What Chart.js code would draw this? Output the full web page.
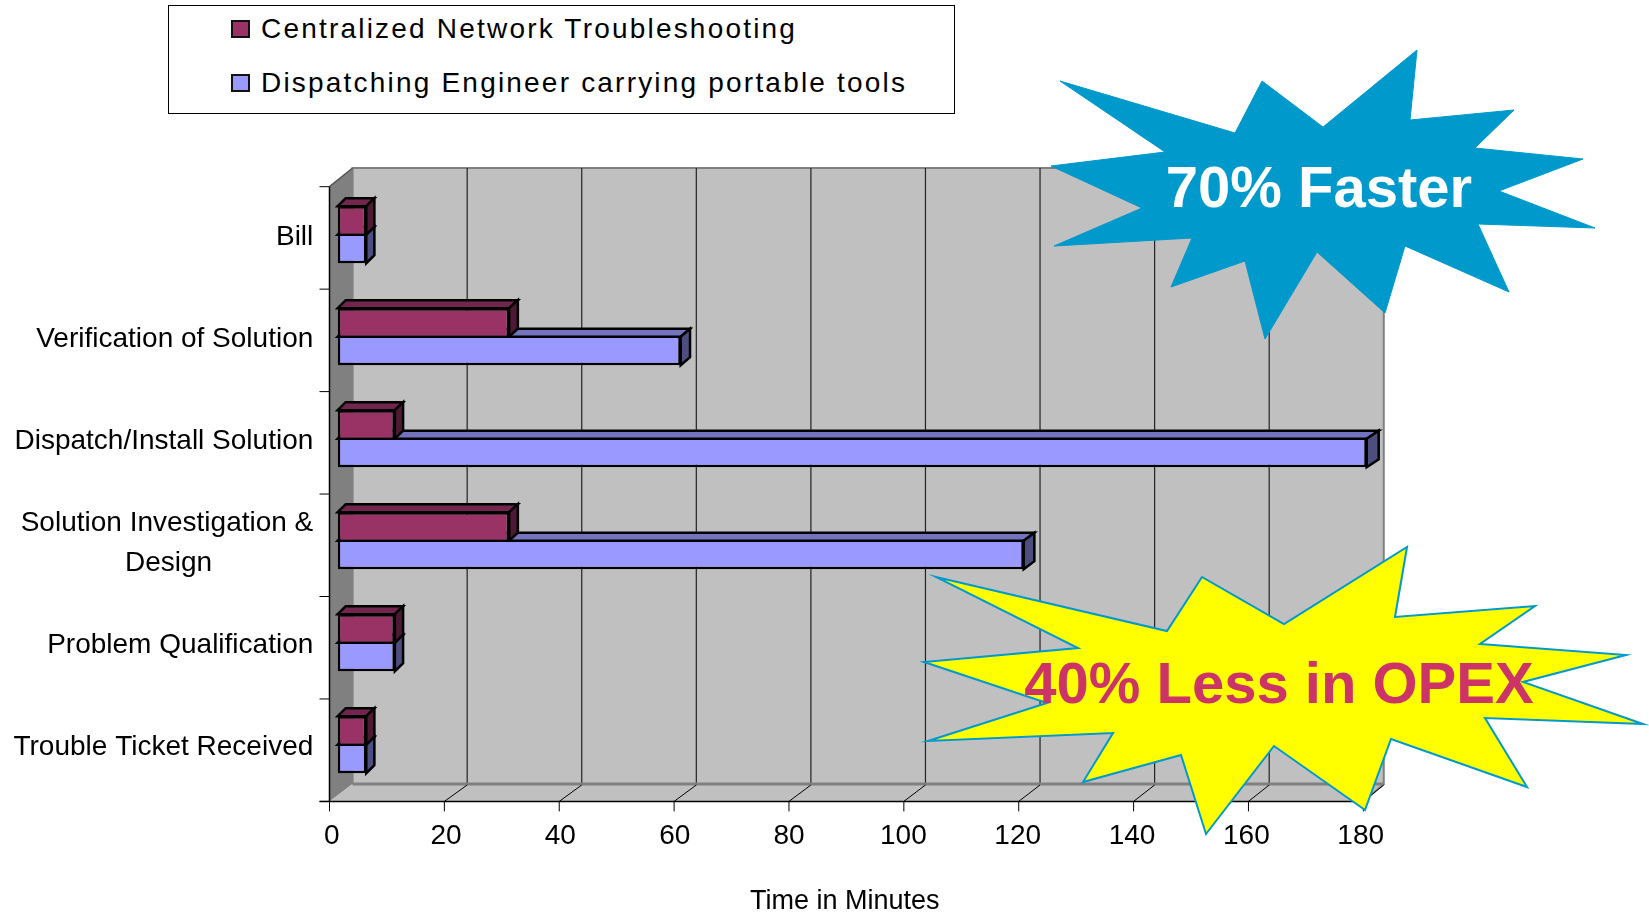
<!DOCTYPE html>
<html>
<head>
<meta charset="utf-8">
<title>Time in Minutes</title>
<script src="https://cdn.jsdelivr.net/npm/chart.js@4.4.1/dist/chart.umd.min.js"></script>
<style>
  html, body { margin: 0; padding: 0; background: #fff; }
  #wrap { position: relative; width: 1649px; height: 915px; overflow: hidden; }
  #chart { position: absolute; left: 0; top: 0; }
  #legend {
    position: absolute; left: 168px; top: 5px; width: 787px; height: 109px;
    border: 1px solid #000; box-sizing: border-box; background: #fff;
    font-family: 'Liberation Sans', Arial, sans-serif; font-size: 28px;
    letter-spacing: 2.2px; color: #000;
  }
  .legend-item { position: absolute; left: 62px; height: 30px; display: flex; align-items: center; white-space: nowrap; }
  .swatch { width: 19px; height: 18px; border: 2px solid #111; box-sizing: border-box; margin-right: 11px; flex: none; }
</style>
</head>
<body>
<div id="wrap">
  <canvas id="chart" width="1649" height="915"></canvas>
  <div id="legend"></div>
</div>
<script>
const CATEGORIES = [
  'Bill',
  'Verification of Solution',
  'Dispatch/Install Solution',
  ['Solution Investigation &', 'Design'.padEnd(19, ' ')],
  'Problem Qualification',
  'Trouble Ticket Received',
];
const CENTRALIZED = [5, 30, 10, 30, 10, 5];
const DISPATCHING = [5, 60, 180, 120, 10, 5];
const X_TICKS = [0, 20, 40, 60, 80, 100, 120, 140, 160, 180];

const FONT = "'Liberation Sans', Arial, sans-serif";
const PURPLE = '#993366';
const BLUE = '#9999FF';
const FACES = [
  { top: '#73264D', side: '#4D1A33' },
  { top: '#7373BF', side: '#4D4D80' },
];

// starburst outlines (page pixels)
const BLUE_STAR = [
  [1060, 81], [1235, 133], [1262, 81], [1323, 127], [1417, 50], [1410, 120],
  [1514, 110], [1475, 148], [1583, 159], [1499, 191], [1595, 228], [1478, 224],
  [1509, 292], [1405, 246], [1385, 313], [1317, 252], [1265, 339], [1245, 261],
  [1171, 287], [1192, 238], [1054, 246], [1142, 208], [1051, 166], [1165, 152],
];
const YELLOW_STAR = [
  [936, 577], [1167, 631], [1202, 577], [1284, 624], [1407, 547], [1395, 617],
  [1535, 606], [1480, 644], [1626, 655], [1523, 682], [1643, 724], [1485, 718],
  [1527, 787], [1391, 739], [1365, 810], [1274, 746], [1206, 834], [1181, 755],
  [1083, 782], [1113, 733], [928, 741], [1047, 703], [924, 662], [1078, 648],
];

function poly(ctx, pts, fill, stroke, lw) {
  ctx.beginPath();
  pts.forEach(([px, py], i) => (i ? ctx.lineTo(px, py) : ctx.moveTo(px, py)));
  ctx.closePath();
  if (fill) { ctx.fillStyle = fill; ctx.fill(); }
  if (stroke) { ctx.lineWidth = lw; ctx.strokeStyle = stroke; ctx.stroke(); }
}

function line(ctx, x1, y1, x2, y2, color, lw) {
  ctx.beginPath();
  ctx.moveTo(x1, y1);
  ctx.lineTo(x2, y2);
  ctx.lineWidth = lw;
  ctx.strokeStyle = color;
  ctx.stroke();
}

// back wall, left wall, floor and front axes around the bar plane
const box3d = {
  id: 'box3d',
  beforeDraw(chart) {
    const { ctx, chartArea: a, scales: { x, y } } = chart;
    const fX = (p) => a.left - 8.2 + (p - a.left) * 1.0047;
    const bX = (p) => a.left + 14.9 + (p - a.left) * 1.0021;
    const fY = (p) => a.top + 3 + (p - a.top) * 1.0044;
    const p0 = x.getPixelForValue(X_TICKS[0]);
    const pN = x.getPixelForValue(X_TICKS[X_TICKS.length - 1]);
    const backTop = a.top - 15.7;
    const backBot = a.bottom - 11.7;
    const frontTop = fY(a.top);
    const frontBot = fY(a.bottom);

    ctx.save();
    poly(ctx, [[bX(p0), backTop], [bX(pN), backTop], [bX(pN), backBot], [bX(p0), backBot]], '#C0C0C0', '#808080', 2);
    X_TICKS.slice(1, -1).forEach((v) => {
      const bx = bX(x.getPixelForValue(v));
      line(ctx, bx, backTop, bx, backBot, '#222', 1.2);
    });
    poly(ctx, [[fX(p0), frontTop], [bX(p0), backTop], [bX(p0), backBot], [fX(p0), frontBot]], '#808080');
    line(ctx, fX(p0), frontTop, bX(p0), backTop, '#555', 1.5);
    poly(ctx, [[fX(p0), frontBot], [bX(p0), backBot], [bX(pN), backBot], [fX(pN), frontBot]], '#C0C0C0');
    line(ctx, bX(p0), backBot, bX(pN), backBot, '#808080', 3);
    line(ctx, bX(pN), backBot, fX(pN), frontBot, '#808080', 2);
    X_TICKS.slice(1).forEach((v) => {
      const p = x.getPixelForValue(v);
      line(ctx, fX(p), frontBot, bX(p), backBot + 1, '#000', 1);
    });

    // front axes and tick marks
    line(ctx, fX(p0), frontTop, fX(p0), frontBot, '#000', 1.5);
    line(ctx, fX(p0) - 10, frontBot, fX(pN), frontBot, '#000', 1.5);
    X_TICKS.forEach((v) => {
      const fx = fX(x.getPixelForValue(v));
      line(ctx, fx, frontBot, fx, frontBot + 10, '#000', 1);
    });
    const band = y.getPixelForValue(1) - y.getPixelForValue(0);
    for (let k = 0; k <= CATEGORIES.length; k++) {
      const yy = fY(y.getPixelForValue(0) - band / 2 + k * band);
      line(ctx, fX(p0) - 10, yy, fX(p0), yy, '#000', 1);
    }
    ctx.restore();
  },
  // top and side faces of every bar, the fronts come from the library
  beforeDatasetsDraw(chart) {
    const { ctx, chartArea: a } = chart;
    const DY = 8;
    const depth = (p) => 8 + 4 * (p - a.left) / a.width;
    ctx.save();
    ctx.lineJoin = 'miter';
    for (let i = 0; i < CATEGORIES.length; i++) {
      [1, 0].forEach((ds) => {
        const bar = chart.getDatasetMeta(ds).data[i];
        const { x, y, base, height } = bar.getProps(['x', 'y', 'base', 'height'], true);
        const top = y - height / 2;
        const bot = y + height / 2;
        const d0 = depth(base);
        const d1 = depth(x);
        poly(ctx, [[base, top], [base + d0, top - DY], [x + d1, top - DY], [x, top]], FACES[ds].top, '#000', 2.5);
        poly(ctx, [[x, top], [x + d1, top - DY], [x + d1, bot - DY], [x, bot]], FACES[ds].side, '#000', 2.5);
      });
    }
    ctx.restore();
  },
  afterDraw(chart) {
    const { ctx } = chart;
    ctx.save();
    poly(ctx, BLUE_STAR, '#0099CC', '#0099CC', 1);
    ctx.font = `bold 58px ${FONT}`;
    ctx.textAlign = 'center';
    ctx.textBaseline = 'alphabetic';
    ctx.fillStyle = '#FFFFFF';
    ctx.fillText('70% Faster', 1319, 207);
    poly(ctx, YELLOW_STAR, '#FFFF00', '#0099CC', 2);
    ctx.fillStyle = '#CC3366';
    ctx.fillText('40% Less in OPEX', 1279, 703);
    ctx.restore();
  },
};

const chart = new Chart(document.getElementById('chart'), {
  type: 'bar',
  data: {
    labels: CATEGORIES,
    datasets: [
      {
        label: 'Centralized Network Troubleshooting',
        data: CENTRALIZED,
        backgroundColor: PURPLE,
        borderColor: '#000',
        borderWidth: { top: 2.5, left: 2.5, right: 2.5, bottom: 1.25 },
        borderSkipped: false,
      },
      {
        label: 'Dispatching Engineer carrying portable tools',
        data: DISPATCHING,
        backgroundColor: BLUE,
        borderColor: '#000',
        borderWidth: { top: 1.25, left: 2.5, right: 2.5, bottom: 2.5 },
        borderSkipped: false,
      },
    ],
  },
  options: {
    indexAxis: 'y',
    responsive: false,
    animation: false,
    events: [],
    layout: { padding: { left: 0, right: 282.3, top: 183.7, bottom: 0 } },
    datasets: { bar: { categoryPercentage: 0.559, barPercentage: 1 } },
    plugins: { legend: { display: false }, tooltip: { enabled: false } },
    scales: {
      x: {
        type: 'linear',
        min: 0,
        max: 180,
        afterBuildTicks: (s) => { s.ticks = X_TICKS.map((v) => ({ value: v })); },
        afterFit: (s) => { s.height = 119.3; },
        grid: { display: false, drawTicks: false },
        border: { display: false },
        ticks: { color: '#000', font: { family: FONT, size: 28 }, padding: 24, labelOffset: -6, maxRotation: 0 },
        title: {
          display: true,
          text: 'Time in Minutes  ',
          color: '#000',
          font: { family: FONT, size: 27, lineHeight: 1 },
          padding: { top: 0, bottom: 0 },
        },
      },
      y: {
        afterFit: (s) => { s.width = 337.7; },
        grid: { display: false, drawTicks: false },
        border: { display: false },
        ticks: { color: '#000', font: { family: FONT, size: 28, lineHeight: 1.43 }, padding: 24.4, labelOffset: 3 },
      },
    },
  },
  plugins: [box3d],
});

// html legend built from the chart datasets
const legendEl = document.getElementById('legend');
chart.data.datasets.forEach((ds, i) => {
  const item = document.createElement('div');
  item.className = 'legend-item';
  item.style.top = (i === 0 ? 8 : 62) + 'px';
  const sw = document.createElement('span');
  sw.className = 'swatch';
  sw.style.background = ds.backgroundColor;
  const txt = document.createElement('span');
  txt.textContent = ds.label;
  item.append(sw, txt);
  legendEl.appendChild(item);
});
</script>
</body>
</html>
